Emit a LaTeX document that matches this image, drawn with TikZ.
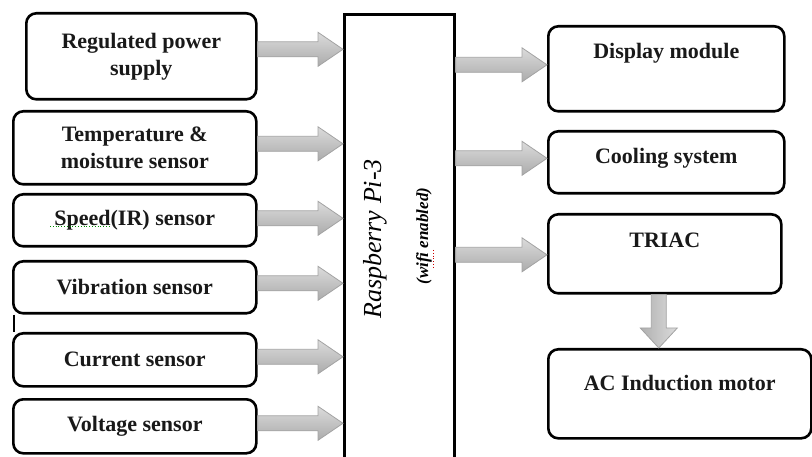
\documentclass[tikz,border=0pt]{standalone}
\usepackage{fontspec}
\setmainfont{Liberation Serif}
\usetikzlibrary{calc}
\tikzset{
  box/.style={draw=black, line width=2.6pt, rounded corners=10pt, fill=white,
              anchor=north west, inner sep=0pt},
  pibox/.style={draw=black, line width=2.6pt, fill=white, anchor=north west, inner sep=0pt},
  lbl/.style={font=\fontsize{22}{27}\selectfont\bfseries, align=center, text=black!90},
  blockarr/.style={draw=gray!72, line width=0.8pt, top color=gray!28, bottom color=gray!66},
  vblockarr/.style={draw=gray!72, line width=0.8pt, left color=gray!62, right color=gray!28},
}
% horizontal block arrow: from #1.east to #2.west at the height of #3 shifted by #4
\newcommand\harr[4]{%
  \path[blockarr] let \p1=(#1.east), \p2=(#2.west), \p3=([yshift=#4]#3.center) in
    (\x1,\y3+7.5pt) -- (\x2-25pt,\y3+7.5pt) -- (\x2-25pt,\y3+17pt) -- (\x2,\y3)
    -- (\x2-25pt,\y3-17pt) -- (\x2-25pt,\y3-7.5pt) -- (\x1,\y3-7.5pt) -- cycle;}
\begin{document}
\begin{tikzpicture}[x=1pt,y=-1pt]
\useasboundingbox (0,0) rectangle (812,457);
\clip (0,0) rectangle (812,457);

% left column
\node[box, minimum width=230pt, minimum height=86pt, lbl] (rps) at (25,12) {Regulated power\\supply};
\node[box, minimum width=243pt, minimum height=73pt, lbl] (temp) at (12,110) {Temperature \&\\moisture sensor};
\node[box, minimum width=243pt, minimum height=52pt, lbl] (speed) at (12,193) {Speed(IR) sensor};
\node[box, minimum width=243pt, minimum height=52pt, lbl] (vib) at (12,260) {Vibration sensor};
\node[box, minimum width=243pt, minimum height=53pt, lbl] (cur) at (12,332) {Current sensor};
\node[box, minimum width=243pt, minimum height=54pt, lbl] (volt) at (12,398) {Voltage sensor};
\draw[line width=1.6pt] ([xshift=2pt]vib.south west) -- ([xshift=2pt]cur.north west);

% Raspberry Pi
\node[pibox, minimum width=110pt, minimum height=460pt] (rpi) at (343,13) {};
\node[rotate=90, font=\fontsize{26}{30}\selectfont\itshape] (rpiT) at (375,239) {Raspberry Pi-3};
\node[rotate=90, font=\fontsize{17}{20}\selectfont\bfseries\itshape] (wifi) at (424,236) {(wif\kern0pt i enabled)};

% right column
\node[box, minimum width=236pt, minimum height=85pt] (disp) at (547,25) {};
\node[lbl] (dispT) at ($(disp.north)+(0,28)$) {Display module};
\node[box, minimum width=236pt, minimum height=62pt] (cool) at (547,130) {};
\node[lbl] (coolT) at ($(cool.center)+(0,-4)$) {Cooling system};
\node[box, minimum width=233pt, minimum height=79pt] (triac) at (547,213) {};
\node[lbl] (triacT) at ($(triac.north)+(0,27)$) {TRIAC};
\node[box, minimum width=263pt, minimum height=89pt] (motor) at (547,348) {};
\node[lbl] (motorT) at ($(motor.north)+(0,35)$) {AC Induction motor};

% spell-check marks
\draw[green!55!black, line width=0.8pt, dotted] (50,226) -- (110,226);
\draw[red!80!black, line width=0.8pt, dotted] (433,250) -- (433,268);

% arrows into the Pi
\harr{rps}{rpi}{rps}{7pt}
\harr{temp}{rpi}{temp}{4pt}
\harr{speed}{rpi}{speed}{2pt}
\harr{vib}{rpi}{vib}{4pt}
\harr{cur}{rpi}{cur}{3pt}
\harr{volt}{rpi}{volt}{3pt}

% arrows out of the Pi
\harr{rpi}{disp}{disp}{4pt}
\harr{rpi}{cool}{cool}{4pt}
\harr{rpi}{triac}{triac}{-1pt}

% TRIAC to motor
\path[vblockarr] let \p1=([xshift=-6pt]triac.south), \p2=(motor.north) in
  (\x1-7.5pt,\y1) -- (\x1-7.5pt,\y2+20pt) -- (\x1-18.5pt,\y2+20pt) -- (\x1,\y2)
  -- (\x1+18.5pt,\y2+20pt) -- (\x1+7.5pt,\y2+20pt) -- (\x1+7.5pt,\y1) -- cycle;
\end{tikzpicture}
\end{document}
